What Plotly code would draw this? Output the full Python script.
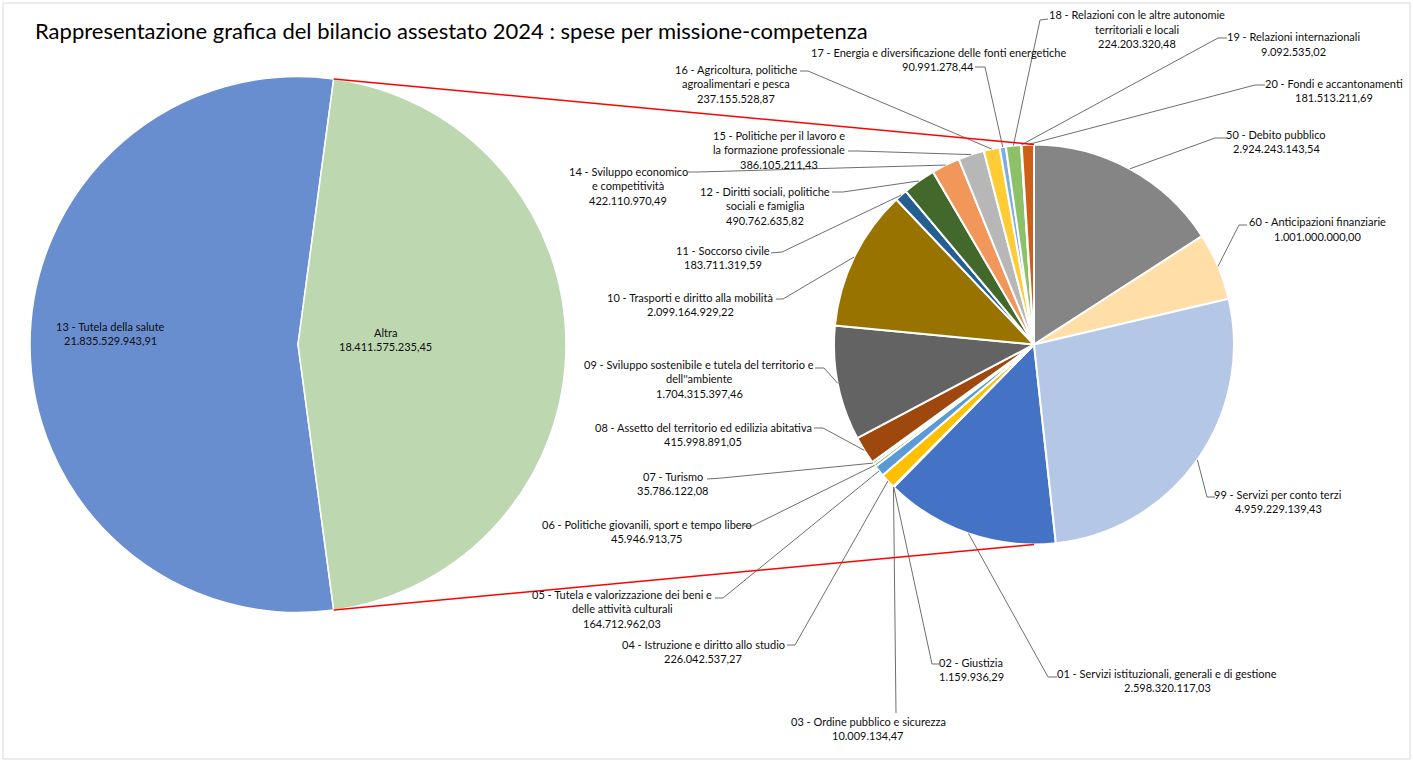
import math
import plotly.graph_objects as go

W, H = 1413, 762

# ---------------- data ----------------
title_text = "Rappresentazione grafica del bilancio assestato 2024 : spese per missione-competenza"

main_labels = ["13 - Tutela della salute", "Altra"]
main_values = [21835529943.91, 18411575235.45]
main_colors = ["#698ED0", "#BDD7B1"]

codes = ["01", "02", "03", "04", "05", "06", "07", "08", "09", "10", "11",
         "12", "14", "15", "16", "17", "18", "19", "20", "50", "60", "99"]
names = [
    "Servizi istituzionali, generali e di gestione",
    "Giustizia",
    "Ordine pubblico e sicurezza",
    "Istruzione e diritto allo studio",
    "Tutela e valorizzazione dei beni e<br>delle attività culturali",
    "Politiche giovanili, sport e tempo libero",
    "Turismo",
    "Assetto del territorio ed edilizia abitativa",
    "Sviluppo sostenibile e tutela del territorio e<br>dell''ambiente",
    "Trasporti e diritto alla mobilità",
    "Soccorso civile",
    "Diritti sociali, politiche<br>sociali e famiglia",
    "Sviluppo economico<br>e competitività",
    "Politiche per il lavoro e<br>la formazione professionale",
    "Agricoltura, politiche<br>agroalimentari e pesca",
    "Energia e diversificazione delle fonti energetiche",
    "Relazioni con le altre autonomie<br>territoriali e locali",
    "Relazioni internazionali",
    "Fondi e accantonamenti",
    "Debito pubblico",
    "Anticipazioni finanziarie",
    "Servizi per conto terzi",
]
values = [2598320117.03, 1159936.29, 10009134.47, 226042537.27, 164712962.03,
          45946913.75, 35786122.08, 415998891.05, 1704315397.46, 2099164929.22,
          183711319.59, 490762635.82, 422110970.49, 386105211.43, 237155528.87,
          90991278.44, 224203320.48, 9092535.02, 181513211.69, 2924243143.54,
          1001000000.00, 4959229139.43]
colors = ["#4472C4", "#ED7D31", "#A5A5A5", "#FFC000", "#5B9BD5", "#70AD47",
          "#264478", "#9E480E", "#636363", "#997300", "#255E91", "#43682B",
          "#F1975A", "#B7B7B7", "#FFCD33", "#7CAFDD", "#8CC168", "#335AA1",
          "#CF5F17", "#858585", "#FFDFA7", "#B4C7E7"]

# ---------------- layout constants (pixels) ----------------
P1 = (298, 344.5, 268)     # primary pie centre x, y, radius
P2 = (1034, 344.5, 200)    # secondary pie centre x, y, radius
LINE_H = 14.5
FONT = "Lato, Carlito, Calibri, sans-serif"
TXT = "#0D0D0D"
LABEL_SIZE = 11

# label placement: code -> (text centre x, first line y, stub end (x,y), elbow (x,y))
label_pos = {
    "01": (1167, 673, (1057, 677), (1048, 677)),
    "02": (971, 662, (939, 664), (932, 664)),
    "03": (868, 721, (896, 713), (896, 713)),
    "04": (703, 644, (787, 645), (795, 645)),
    "05": (622, 594, (715, 598), (723, 598)),
    "06": (647, 524, (744, 526), (752, 526)),
    "07": (673, 476, (707, 479), (722, 478)),
    "08": (703, 427, (814, 428), (823, 428)),
    "09": (699, 364, (815, 368), (824, 368)),
    "10": (690, 297, (776, 299), (783, 299)),
    "11": (723, 250, (771, 253), (782, 252)),
    "12": (765, 191, (832, 192), (843, 192)),
    "14": (628, 171, (688, 172), (698, 172)),
    "15": (779, 135, (848, 151), (858, 151)),
    "16": (736, 69, (800, 71), (808, 71)),
    "17": (938, 52, (975, 67), (985, 67)),
    "18": (1137, 15, (1048, 19), (1040, 20)),
    "19": (1293, 37, (1227, 38), (1218, 38)),
    "20": (1334, 83, (1265, 85), (1255, 85)),
    "50": (1276, 134, (1227, 138), (1215, 138)),
    "60": (1317, 222, (1247, 225), (1239, 225)),
    "99": (1278, 494, (1215, 497), (1207, 497)),
}
main_label_pos = [(110, 326), (386, 332)]


def it_num(v):
    s = f"{v:,.2f}"
    return s.replace(",", "X").replace(".", ",").replace("X", ".")


def px(x):
    return x / W


def py(y):
    return 1 - y / H


def domain(c):
    cx, cy, r = c
    return dict(x=[px(cx - r), px(cx + r)], y=[py(cy + r), py(cy - r)])


def pie_point(c, ang_deg, rr=1.0):
    cx, cy, r = c
    a = math.radians(ang_deg)
    return cx + rr * r * math.sin(a), cy - rr * r * math.cos(a)


# ---------------- angles from data ----------------
tot1 = sum(main_values)
altra_span = 360 * main_values[1] / tot1
rot1 = 90 + altra_span / 2          # 'Altra' centred at 3 o'clock

tot2 = sum(values)
rot2 = 360 * sum(values[-3:]) / tot2  # '50' begins at 12 o'clock
mid_angles = []
acc = rot2
for v in values:
    span = 360 * v / tot2
    mid_angles.append(acc + span / 2)
    acc += span

fig = go.Figure()
fig.add_trace(go.Pie(
    labels=main_labels, values=main_values, sort=False, direction="clockwise",
    rotation=rot1, domain=domain(P1), textinfo="none", hoverinfo="label+value",
    marker=dict(colors=main_colors, line=dict(color="white", width=1.5)),
    showlegend=False,
))
fig.add_trace(go.Pie(
    labels=[f"{c} - {n.replace('<br>', ' ')}" for c, n in zip(codes, names)],
    values=values, sort=False, direction="clockwise", rotation=rot2,
    domain=domain(P2), textinfo="none", hoverinfo="label+value",
    marker=dict(colors=colors, line=dict(color="white", width=2)),
    showlegend=False,
))

annotations = []
shapes = []


def add_lines(cx, y0, lines, size=LABEL_SIZE):
    for i, t in enumerate(lines):
        annotations.append(dict(
            x=px(cx), y=py(y0 + i * LINE_H), xref="paper", yref="paper",
            text=t, showarrow=False, xanchor="center", yanchor="middle",
            font=dict(family=FONT, size=size, color=TXT),
        ))


# primary pie labels
for (lx, ly), lab, v in zip(main_label_pos, main_labels, main_values):
    add_lines(lx, ly, [lab, it_num(v)])

# secondary pie labels with leader lines
for c, n, v, ang in zip(codes, names, values, mid_angles):
    cx, y1, (ex, ey), (bx, by) = label_pos[c]
    parts = n.split("<br>")
    lines = [f"{c} - {parts[0]}"] + parts[1:] + [it_num(v)]
    add_lines(cx, y1, lines)
    sx, sy = pie_point(P2, ang)
    path = f"M {px(sx)},{py(sy)} L {px(bx)},{py(by)} L {px(ex)},{py(ey)}"
    shapes.append(dict(type="path", path=path, xref="paper", yref="paper",
                       line=dict(color="#6E6E6E", width=1), layer="above"))

# connector lines between the pies
for sgn in (-1, 1):
    ax, ay = pie_point(P1, 90 + sgn * altra_span / 2)
    bx, by = P2[0], P2[1] + sgn * P2[2]
    shapes.append(dict(type="line", x0=px(ax), y0=py(ay), x1=px(bx), y1=py(by),
                       xref="paper", yref="paper",
                       line=dict(color="#FF0000", width=1.5), layer="above"))

# chart border
shapes.append(dict(type="rect", x0=px(3), y0=py(759), x1=px(1410), y1=py(3),
                   xref="paper", yref="paper",
                   line=dict(color="#D9D9D9", width=1), layer="below"))

# title
annotations.append(dict(
    x=px(33), y=py(31), xref="paper", yref="paper", text=title_text,
    showarrow=False, xanchor="left", yanchor="middle",
    font=dict(family=FONT, size=22, color="#000000"),
))

fig.update_layout(
    width=W, height=H, margin=dict(l=0, r=0, t=0, b=0),
    paper_bgcolor="white", plot_bgcolor="white",
    annotations=annotations, shapes=shapes, showlegend=False,
)

fig.write_html(
    "out.html",
    config={"displayModeBar": False},
    post_script="document.body.style.margin='0px';document.body.style.overflow='hidden';",
)
